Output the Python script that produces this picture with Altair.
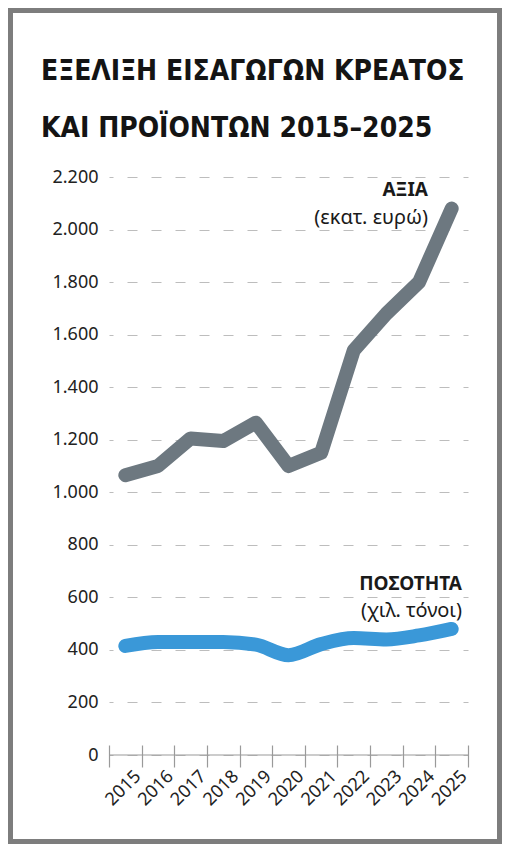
import altair as alt
import pandas as pd

# ---- data ----
years = [str(y) for y in range(2015, 2026)]
value_meur = [1065, 1100, 1205, 1195, 1265, 1100, 1150, 1540, 1680, 1800, 2080]
quantity_kt = [415, 430, 430, 430, 420, 380, 422, 445, 440, 455, 480]
series_names = ["ΑΞΙΑ", "ΠΟΣΟΤΗΤΑ"]
series_units = ["(εκατ. ευρώ)", "(χιλ. τόνοι)"]
series_colors = ["#6d7880", "#3a98d8"]
y_ticks = list(range(0, 2201, 200))
title_lines = ["ΕΞΕΛΙΞΗ ΕΙΣΑΓΩΓΩΝ ΚΡΕΑΤΟΣ", "ΚΑΙ ΠΡΟΪΟΝΤΩΝ 2015–2025"]

W, H = 359, 578
FONT = "Noto Sans"
TITLE_FONT = "'Liberation Sans Narrow', 'Arial Narrow', 'DejaVu Sans Condensed', Roboto, sans-serif"

df = pd.DataFrame({
    "year": years * 2,
    "value": value_meur + quantity_kt,
    "series": [s for s in series_names for _ in years],
})
one = pd.DataFrame({"k": [0]})

x_enc = alt.X(
    "year:O",
    bandPosition=0.5,
    title=None,
    scale=alt.Scale(type="band", paddingInner=0, paddingOuter=0),
    axis=alt.Axis(
        domain=False, offset=-10, tickSize=22, tickBand="extent",
        tickColor="#9a9a9a", tickWidth=1.2, labelAngle=315,
        labelAlign="right", labelBaseline="top", labelFont=FONT,
        labelFontSize=18, labelColor="#222222", labelPadding=0,
        labelOffset=6, grid=False,
    ),
)
y_enc = alt.Y(
    "value:Q",
    title=None,
    scale=alt.Scale(domain=[0, 2200], nice=False),
    axis=alt.Axis(
        values=y_ticks, grid=True, gridDash=[10, 14], gridDashOffset=6,
        gridColor="#bdbdbd", gridWidth=1.2, domain=False, ticks=False,
        labelPadding=11, labelFont=FONT, labelFontSize=18,
        labelColor="#222222",
        labelExpr="replace(format(datum.value, ','), ',', '.')",
    ),
)
color_enc = alt.Color("series:N", legend=None,
                      scale=alt.Scale(domain=series_names, range=series_colors))

frame = alt.Chart(one).mark_rect(filled=False, stroke="#7d7d7d", strokeWidth=5).encode(
    x=alt.value(-98.5), x2=alt.value(390.5), y=alt.value(-166.5), y2=alt.value(664.5)
)
domain_rule = alt.Chart(one).mark_rule(color="#9a9a9a", strokeWidth=1.2).encode(
    x=alt.value(0), x2=alt.value(W), y=alt.value(H)
)

line_val = alt.Chart(df).transform_filter(
    alt.datum.series == series_names[0]
).mark_line(strokeWidth=14, strokeCap="round", strokeJoin="round").encode(
    x=x_enc, y=y_enc, color=color_enc
)
line_qty = alt.Chart(df).transform_filter(
    alt.datum.series == series_names[1]
).mark_line(strokeWidth=14, strokeCap="round", strokeJoin="round",
            interpolate="monotone").encode(
    x=x_enc, y=y_enc, color=color_enc
)

def txt(s, x, y, size, weight="normal", align="right", font=FONT, color="#1a1a1a"):
    return alt.Chart(one).mark_text(
        align=align, baseline="alphabetic", font=font, fontSize=size,
        fontWeight=weight, color=color
    ).encode(x=alt.value(x), y=alt.value(y), text=alt.value(s))

t1 = txt(title_lines[0], -68, -97, 28, "bold", "left", TITLE_FONT, "#141414")
t2 = txt(title_lines[1], -68, -40, 28, "bold", "left", TITLE_FONT, "#141414")
a1 = txt(series_names[0], 319, 19, 19, "bold")
a2 = txt(series_units[0], 319, 47, 20)
b1 = txt(series_names[1], 353, 413, 19, "bold")
b2 = txt(series_units[1], 353, 440, 20)

chart = alt.layer(
    domain_rule, line_val, line_qty, t1, t2, a1, a2, b1, b2, frame
).properties(
    width=W, height=H,
    padding={"left": 101, "top": 169, "right": 34, "bottom": 89},
    autosize=alt.AutoSizeParams(type="none"),
).configure(background="white").configure_view(stroke=None)

chart.save("out.html", embed_options={"renderer": "svg", "actions": False})
